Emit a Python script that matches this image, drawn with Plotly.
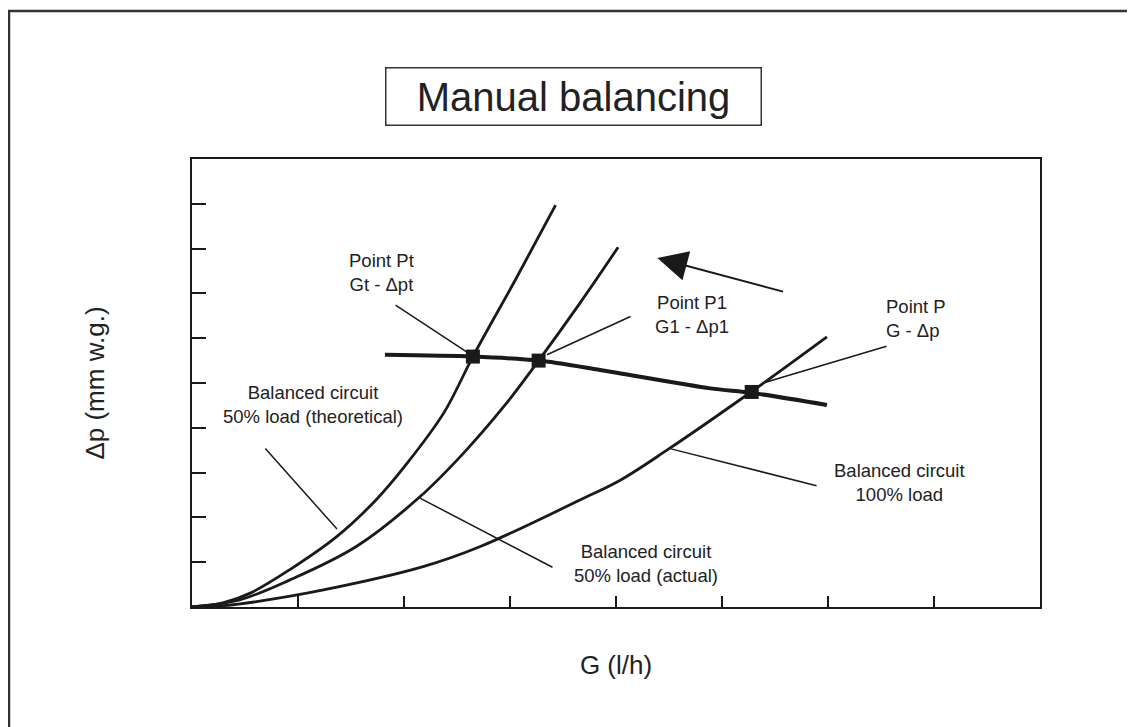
import plotly.graph_objs as go

# G values (x) and delta-p values (y), axis range 0-8 / 0-10
theo_g = [0.0, 0.29, 0.55, 0.92, 1.365, 1.74, 2.03, 2.38, 2.65, 3.05, 3.43]
theo_dp = [0.0, 0.09, 0.31, 0.83, 1.57, 2.40, 3.21, 4.35, 5.59, 7.30, 8.97]

actual_g = [0.0, 0.45, 0.92, 1.55, 2.15, 2.56, 2.94, 3.27, 3.65, 4.02]
actual_dp = [0.0, 0.16, 0.60, 1.35, 2.46, 3.43, 4.47, 5.50, 6.75, 8.03]

full_g = [0.0, 0.30, 0.61, 1.24, 2.18, 2.72, 3.66, 4.04, 4.48, 5.28, 5.99]
full_dp = [0.0, 0.03, 0.12, 0.38, 0.90, 1.35, 2.39, 2.83, 3.50, 4.81, 6.03]

system_g = [1.82, 2.65, 3.27, 3.85, 4.89, 5.28, 5.99]
system_dp = [5.63, 5.59, 5.50, 5.29, 4.88, 4.78, 4.51]

point_g = [2.65, 3.27, 5.28]
point_dp = [5.59, 5.50, 4.80]

# labels: text, centre, leader line (label end -> curve end)
labels = [
    "Point Pt<br>Gt - Δpt",
    "Point P1<br>G1 - Δp1",
    "Point P<br>G - Δp",
    "Balanced circuit<br>50% load (theoretical)",
    "Balanced circuit<br>50% load (actual)",
    "Balanced circuit<br>100% load",
]
label_g = [1.79, 4.72, 6.83, 1.14, 4.28, 6.67]
label_dp = [7.47, 6.53, 6.45, 4.51, 0.98, 2.79]
label_align = ["center", "center", "left", "center", "center", "center"]
leader_from_g = [1.906, 4.151, 6.566, 0.679, 3.415, 5.906]
leader_from_dp = [6.76, 6.50, 5.83, 3.57, 0.87, 2.70]
leader_to_g = [2.594, 3.349, 5.387, 1.368, 2.151, 4.519]
leader_to_dp = [5.69, 5.63, 5.00, 1.74, 2.43, 3.53]

# direction arrow
arrow_tail = (5.59, 7.03)
arrow_tip = (4.39, 7.79)

x_ticks = [1, 2, 3, 4, 5, 6, 7]
y_ticks = [1, 2, 3, 4, 5, 6, 7, 8, 9]

INK = "#1a1a1a"
FONT = "Liberation Sans, Arial, sans-serif"

# page has an 8px body margin, so work in page pixels and take it off
OFF = 8
W, H = 1135 - OFF, 727 - OFF
L, R, T, B = 192 - OFF, 1040 - OFF, 159 - OFF, 607 - OFF


def px(x):
    return (x - OFF - L) / (R - L)


def py(y):
    return (B - (y - OFF)) / (B - T)


fig = go.Figure()

for g, dp in [(theo_g, theo_dp), (actual_g, actual_dp), (full_g, full_dp)]:
    fig.add_trace(go.Scatter(x=g, y=dp, mode="lines",
                             line=dict(color=INK, width=2.8, shape="spline", smoothing=1.0),
                             hoverinfo="skip"))

fig.add_trace(go.Scatter(x=system_g, y=system_dp, mode="lines",
                         line=dict(color=INK, width=4, shape="spline", smoothing=0.8),
                         hoverinfo="skip"))

fig.add_trace(go.Scatter(x=point_g, y=point_dp, mode="markers",
                         marker=dict(symbol="square", size=14, color=INK),
                         hoverinfo="skip"))

annotations = []
for i in range(len(labels)):
    # leader line
    annotations.append(dict(x=leader_to_g[i], y=leader_to_dp[i], xref="x", yref="y",
                            ax=leader_from_g[i], ay=leader_from_dp[i], axref="x", ayref="y",
                            text="", showarrow=True, arrowhead=0, arrowwidth=1.5,
                            arrowcolor=INK))
    annotations.append(dict(x=label_g[i], y=label_dp[i], xref="x", yref="y",
                            text=labels[i], showarrow=False, align=label_align[i],
                            font=dict(family=FONT, size=18.5, color="#222")))

annotations.append(dict(x=arrow_tip[0], y=arrow_tip[1], xref="x", yref="y",
                        ax=arrow_tail[0], ay=arrow_tail[1], axref="x", ayref="y",
                        text="", showarrow=True, arrowhead=2, arrowsize=3,
                        arrowwidth=2, arrowcolor=INK))

# boxed title
annotations.append(dict(x=px(573), y=py(97), xref="paper", yref="paper",
                        text="Manual balancing", showarrow=False,
                        xanchor="center", yanchor="middle",
                        width=372, height=54, borderwidth=1.5, bordercolor="#333",
                        font=dict(family=FONT, size=40, color="#222")))

fig.update_layout(
    width=W, height=H,
    margin=dict(l=L, r=W - R, t=T, b=H - B),
    paper_bgcolor="white", plot_bgcolor="white",
    showlegend=False,
    annotations=annotations,
    shapes=[dict(type="rect", xref="paper", yref="paper",
                 x0=px(9), y0=py(11), x1=px(1180), y1=py(780),
                 line=dict(color="#333", width=2.5))],
    xaxis=dict(range=[0, 8], tickvals=x_ticks, ticks="inside", ticklen=11,
               tickwidth=2, tickcolor=INK, showticklabels=False,
               showgrid=False, zeroline=False, showline=True, linewidth=2,
               linecolor=INK, mirror=True,
               title=dict(text="G (l/h)", standoff=48,
                          font=dict(family=FONT, size=26, color="#222"))),
    yaxis=dict(range=[0, 10], tickvals=y_ticks, ticks="inside", ticklen=14,
               tickwidth=2, tickcolor=INK, showticklabels=False,
               showgrid=False, zeroline=False, showline=True, linewidth=2,
               linecolor=INK, mirror=True,
               title=dict(text="Δp (mm w.g.)", standoff=78,
                          font=dict(family=FONT, size=26, color="#222"))),
)

fig.write_html("out.html")
